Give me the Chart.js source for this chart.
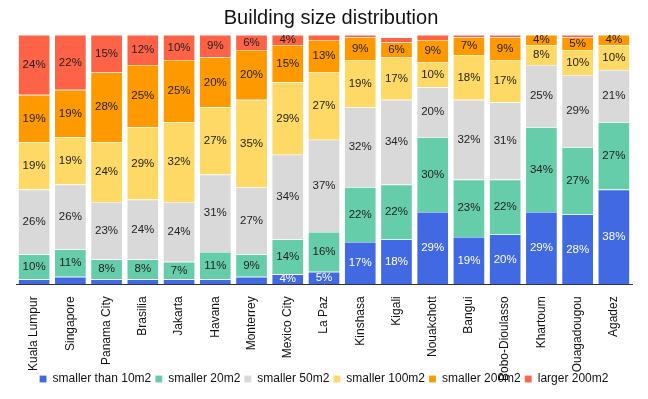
<!DOCTYPE html>
<html>
<head>
<meta charset="utf-8">
<script src="https://cdn.jsdelivr.net/npm/chart.js@4.4.1/dist/chart.umd.min.js"></script>
<style>
  body { margin: 0; background: #fff; }
  #wrap { width: 648px; height: 399px; }
</style>
</head>
<body>
<div id="wrap"><canvas id="chart" width="648" height="399"></canvas></div>
<script>
// Ciudades (eje x)
const cities = ["Kuala Lumpur", "Singapore", "Panama City", "Brasilia", "Jakarta", "Havana",
  "Monterrey", "Mexico City", "La Paz", "Kinshasa", "Kigali", "Nouakchott", "Bangui",
  "Bobo-Dioulasso", "Khartoum", "Ouagadougou", "Agadez"];

// Porcentajes por categoria de tamaño
const smaller10 = [2, 3, 2, 2, 2, 2, 3, 4, 5, 17, 18, 29, 19, 20, 29, 28, 38];
const smaller20 = [10, 11, 8, 8, 7, 11, 9, 14, 16, 22, 22, 30, 23, 22, 34, 27, 27];
const smaller50 = [26, 26, 23, 24, 24, 31, 27, 34, 37, 32, 34, 20, 32, 31, 25, 29, 21];
const smaller100 = [19, 19, 24, 29, 32, 27, 35, 29, 27, 19, 17, 10, 18, 17, 8, 10, 10];
const smaller200 = [19, 19, 28, 25, 25, 20, 20, 15, 13, 9, 6, 9, 7, 9, 4, 5, 4];
const larger200 = [24, 22, 15, 12, 10, 9, 6, 4, 2, 1, 2, 2, 1, 1, 1, 1, 1];

const seriesNames = ["smaller than 10m2", "smaller 20m2", "smaller 50m2", "smaller 100m2", "smaller 200m2", "larger 200m2"];
const seriesColors = ["#4169e1", "#66cdaa", "#d9d9d9", "#ffd966", "#ff9900", "#ff6347"];
const seriesData = [smaller10, smaller20, smaller50, smaller100, smaller200, larger200];

const FONT = "'Liberation Sans', Arial, Helvetica, sans-serif";

// Etiquetas de porcentaje dentro de cada segmento
const segmentLabels = {
  id: "segmentLabels",
  afterLayout(chart) {
    // el titulo del original esta algo corrido a la derecha
    if (chart.titleBlock) chart.titleBlock.left += 14;
    // no recortar las etiquetas del eje x (se montan sobre la leyenda)
    const x = chart.scales.x;
    if (x) x._computeLabelArea = () => undefined;
  },
  afterDatasetsDraw(chart) {
    const ctx = chart.ctx;
    ctx.save();
    ctx.font = "11.5px " + FONT;
    ctx.textAlign = "center";
    ctx.textBaseline = "middle";
    chart.data.datasets.forEach((ds, i) => {
      const meta = chart.getDatasetMeta(i);
      meta.data.forEach((bar, j) => {
        const v = ds.data[j];
        if (v < 4) return;
        const p = bar.getProps(["x", "y", "base"], true);
        ctx.fillStyle = i === 0 ? "#ffffff" : "#222222";
        ctx.fillText(v + "%", p.x, (p.y + p.base) / 2);
      });
    });
    ctx.restore();
  }
};

const datasets = seriesNames.map((name, i) => ({
  label: name,
  data: seriesData[i],
  backgroundColor: seriesColors[i],
  borderColor: "rgba(255,255,255,0.35)",
  borderWidth: 0.6,
  categoryPercentage: 1,
  barPercentage: 0.88
}));

new Chart(document.getElementById("chart"), {
  type: "bar",
  data: { labels: cities, datasets: datasets },
  options: {
    responsive: false,
    animation: false,
    layout: { padding: { left: 16, right: 16, top: 0, bottom: 4 } },
    plugins: {
      title: {
        display: true,
        text: "Building size distribution",
        color: "#111",
        font: { family: FONT, size: 20, weight: "normal" },
        padding: { top: 6, bottom: 5 }
      },
      legend: {
        position: "bottom",
        labels: {
          color: "#111",
          font: { family: FONT, size: 12 },
          boxWidth: 7,
          boxHeight: 7,
          padding: 4
        }
      },
      tooltip: { enabled: false }
    },
    scales: {
      x: {
        stacked: true,
        grid: { display: false },
        border: { display: true, color: "#333", width: 1 },
        ticks: {
          color: "#111",
          font: { family: FONT, size: 12 },
          minRotation: 90,
          maxRotation: 90,
          autoSkip: false,
          padding: 4
        },
        // las etiquetas largas invaden la leyenda como en el original
        afterFit(scale) { scale.height -= 16; }
      },
      y: {
        stacked: true,
        display: false,
        min: 0,
        max: 100
      }
    }
  },
  plugins: [segmentLabels]
});
</script>
</body>
</html>
